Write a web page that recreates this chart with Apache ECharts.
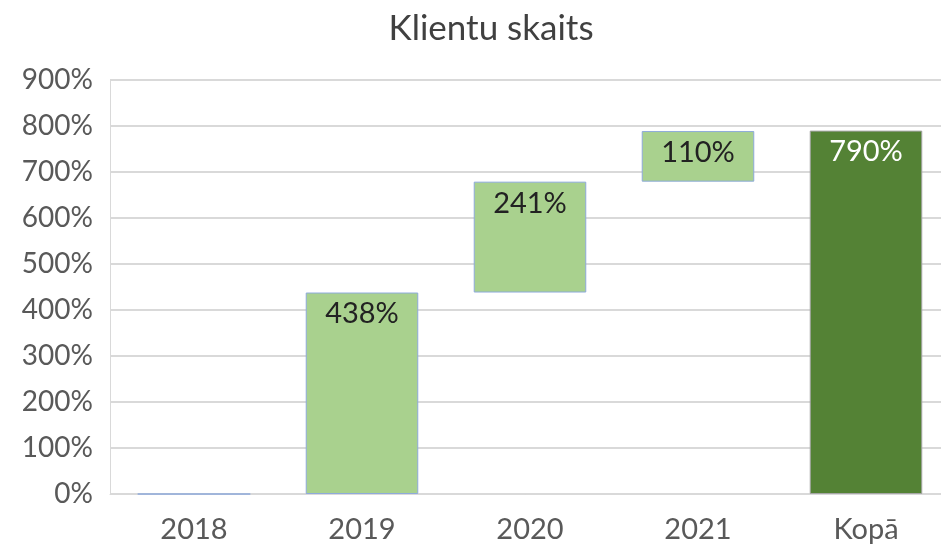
<!DOCTYPE html>
<html>
<head>
<meta charset="utf-8">
<script src="https://cdn.jsdelivr.net/npm/echarts@6/dist/echarts.min.js"></script>
<style>
	html, body { margin: 0; padding: 0; background: #fff; }
	#chart { width: 941px; height: 546px; }
</style>
</head>
<body>
<div id="chart"></div>
<script>
// dati
var categories = ['2018', '2019', '2020', '2021', 'Kopā'];
var baseValues = [0, 0, 438, 679, 0];      // neredzamā pamatne
var changeValues = [0, 438, 241, 110, 790]; // izmaiņas un kopsumma
var yTicks = [0, 900, 100];                 // min, max, solis

var font = 'Lato, "Open Sans", sans-serif';
var chart = echarts.init(document.getElementById('chart'));

var barData = changeValues.map(function(v, i) {
	var last = i === changeValues.length - 1;
	return {
		value: v,
		itemStyle: {
			color: last ? '#548235' : '#a9d18e',
			borderColor: last ? '#a6a6a6' : '#8eaadb',
			borderWidth: 1
		},
		label: {
			show: i > 0,
			color: last ? '#ffffff' : '#222222'
		}
	};
});

var option = {
	animation: false,
	title: {
		text: 'Klientu skaits',
		left: 486,
		textAlign: 'center',
		top: 6,
		textStyle: { fontFamily: font, fontSize: 35, fontWeight: 'normal', color: '#404040' }
	},
	grid: { left: 110, right: -9, top: 80, bottom: 52, containLabel: false, outerBoundsMode: 'none' },
	xAxis: {
		type: 'category',
		data: categories,
		axisLine: { lineStyle: { color: '#d9d9d9', width: 1 } },
		axisTick: { show: false },
		axisLabel: { fontFamily: font, fontSize: 29, color: '#595959', margin: 21 }
	},
	yAxis: {
		type: 'value',
		min: yTicks[0],
		max: yTicks[1],
		interval: yTicks[2],
		axisLine: { show: true, lineStyle: { color: '#d9d9d9', width: 1 } },
		axisTick: { show: false },
		splitLine: { lineStyle: { color: '#d9d9d9', width: 2 } },
		axisLabel: { fontFamily: font, fontSize: 28, color: '#595959', margin: 17, formatter: '{value}%' }
	},
	series: [
		{
			name: 'pamatne',
			type: 'bar',
			stack: 'wf',
			barWidth: '67%',
			silent: true,
			itemStyle: { color: 'transparent', borderColor: 'transparent' },
			data: baseValues
		},
		{
			name: 'Klientu skaits',
			type: 'bar',
			stack: 'wf',
			barWidth: '67%',
			label: {
				show: true,
				position: 'insideTop',
				distance: 7,
				fontFamily: font,
				fontSize: 29,
				formatter: '{c}%'
			},
			data: barData
		}
	]
};

chart.setOption(option);
</script>
</body>
</html>
